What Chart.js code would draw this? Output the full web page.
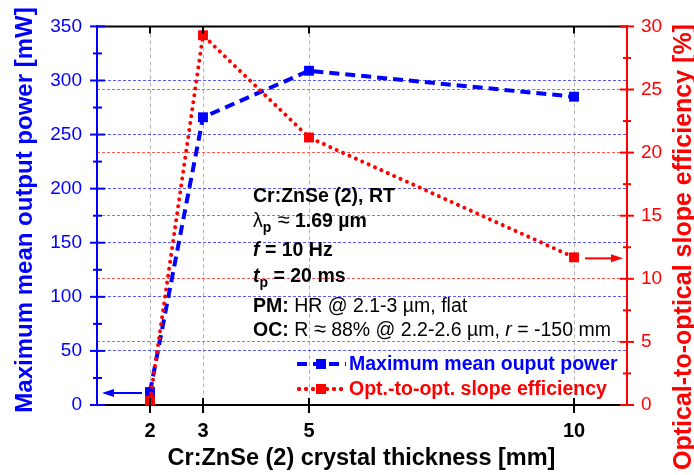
<!DOCTYPE html>
<html><head><meta charset="utf-8">
<script src="https://cdn.jsdelivr.net/npm/chart.js@4.4.0/dist/chart.umd.min.js"></script>
<style>html,body{margin:0;padding:0;background:#fff;overflow:hidden}#wrap{width:694px;height:475px}</style>
</head><body><div id="wrap"><canvas id="c" width="694" height="475"></canvas></div>
<script>
// ---- data ----
const thickness = [2, 3, 5, 10];            // mm
const powerMW   = [12, 266, 309, 285];      // mW
const slopeEff  = [0.35, 29.3, 21.2, 11.7]; // %
const xTicks    = [2, 3, 5, 10];
const powerLabel = 'Maximum mean ouput power';
const slopeLabel = 'Opt.-to-opt. slope efficiency';
const xTitle  = 'Cr:ZnSe (2) crystal thickness [mm]';
const yTitle  = 'Maximum mean output power [mW]';
const y2Title = 'Optical-to-optical slope efficiency [%]';

const FONT = '"Liberation Sans", Arial, sans-serif';
const BLUE = '#0000ff', RED = '#ff0000';

function pts(ys){ return thickness.map((x,i)=>({x:x, y:ys[i]})); }

function line(ctx,x1,y1,x2,y2,color,w,dash){
  ctx.save(); ctx.strokeStyle=color; ctx.lineWidth=w; ctx.setLineDash(dash||[]);
  ctx.beginPath(); ctx.moveTo(x1,y1); ctx.lineTo(x2,y2); ctx.stroke(); ctx.restore();
}
function arrow(ctx,x1,y,x2,color){
  const dir = Math.sign(x2-x1);
  line(ctx,x1,y,x2-dir*8,y,color,2);
  ctx.save(); ctx.fillStyle=color; ctx.beginPath();
  ctx.moveTo(x2,y); ctx.lineTo(x2-dir*12,y-4); ctx.lineTo(x2-dir*12,y+4); ctx.closePath(); ctx.fill(); ctx.restore();
}
function runs(ctx,x,y,parts,color){
  ctx.save(); ctx.fillStyle=color||'#000'; ctx.textBaseline='alphabetic'; ctx.textAlign='left';
  for(const p of parts){
    const size = p.size || 19.5;
    ctx.font = (p.s||'') + ' ' + size + 'px ' + FONT;
    ctx.fillText(p.t, x, y + (p.dy||0));
    x += ctx.measureText(p.t).width;
  }
  ctx.restore();
}

const deco = {
  id:'deco',
  afterDraw(chart){
    const ctx=chart.ctx, a=chart.chartArea, sx=chart.scales.x, sy=chart.scales.y, sy2=chart.scales.y2;
    // top axis
    line(ctx,a.left,a.top,a.right,a.top,'#000',2);
    xTicks.forEach(v=>{const p=Math.round(sx.getPixelForValue(v)); line(ctx,p,a.top,p,a.top+7,'#000',2); line(ctx,p,a.bottom-7,p,a.bottom+8,'#000',2);});
    // left ticks
    for(let v=0; v<=350; v+=25){
      const p=sy.getPixelForValue(v);
      if(v%50===0) line(ctx,a.left-7,p,a.left+8,p,BLUE,2); else line(ctx,a.left-4,p,a.left+5,p,BLUE,2);
    }
    for(let v=0; v<=30; v+=2.5){
      const p=sy2.getPixelForValue(v);
      if(v%5===0) line(ctx,a.right-7,p,a.right+7,p,RED,2); else line(ctx,a.right-4,p,a.right+4,p,RED,2);
    }
    // arrows
    const by = sy.getPixelForValue(powerMW[0]) + 1;
    arrow(ctx, sx.getPixelForValue(thickness[0]) - 8, by, a.left + 5, BLUE);
    const ry = sy2.getPixelForValue(slopeEff[slopeEff.length-1]) + 1;
    arrow(ctx, sx.getPixelForValue(thickness[thickness.length-1]) + 11, ry, a.right - 4, RED);
    // annotation
    const X = 253;
    runs(ctx,X,202,[{t:'Cr:ZnSe (2), RT',s:'bold'}]);
    runs(ctx,X,227,[{t:'λ'},{t:'p',s:'bold',size:14,dy:5},{t:' ≈',size:22},{t:' 1.69 µm',s:'bold'}]);
    runs(ctx,X,256,[{t:'f',s:'italic bold'},{t:' = 10 Hz',s:'bold'}]);
    runs(ctx,X,282,[{t:'t',s:'italic bold'},{t:'p',s:'bold',size:14,dy:5},{t:' = 20 ms',s:'bold'}]);
    runs(ctx,X,312,[{t:'PM:',s:'bold'},{t:' HR @ 2.1-3 µm, flat'}]);
    runs(ctx,X,336,[{t:'OC:',s:'bold'},{t:' R '},{t:'≈',size:22},{t:' 88% @ 2.2-2.6 µm, '},{t:'r',s:'italic'},{t:' = -150 mm'}]);
    // legend
    const lx1=297, lx2=346, mx=321;
    line(ctx,lx1,364,lx2,364,BLUE,4,[10,6]);
    ctx.fillStyle=BLUE; ctx.fillRect(mx-5,359,10,10);
    ctx.save(); ctx.lineCap='round'; line(ctx,lx1+2,389,lx2,389,RED,4,[0.01,7]); ctx.restore();
    ctx.save(); ctx.strokeStyle=RED; ctx.lineWidth=4; ctx.lineCap='round'; ctx.setLineDash([0.01,7]);
    ctx.beginPath(); ctx.moveTo(lx1+2,389); ctx.lineTo(lx2,389); ctx.stroke(); ctx.restore();
    ctx.fillStyle=RED; ctx.fillRect(mx-5,384,10,10);
    runs(ctx,349,370,[{t:powerLabel,s:'bold'}],BLUE);
    runs(ctx,349,395,[{t:slopeLabel,s:'bold'}],RED);
    // axis titles
    ctx.save(); ctx.fillStyle=BLUE; ctx.font='bold 24px '+FONT; ctx.textAlign='center'; ctx.textBaseline='alphabetic';
    ctx.translate(32,210); ctx.rotate(-Math.PI/2); ctx.fillText(yTitle,0,0); ctx.restore();
    ctx.save(); ctx.fillStyle=RED; ctx.font='bold 25px '+FONT; ctx.textAlign='center'; ctx.textBaseline='alphabetic';
    ctx.translate(691,247); ctx.rotate(-Math.PI/2); ctx.fillText(y2Title,0,0); ctx.restore();
    ctx.save(); ctx.fillStyle='#000'; ctx.font='bold 23.5px '+FONT; ctx.textAlign='center'; ctx.textBaseline='alphabetic';
    ctx.fillText(xTitle,361.5,465); ctx.restore();
  }
};

new Chart(document.getElementById('c'), {
  type:'line',
  data:{ datasets:[
    { label:powerLabel, data:pts(powerMW), yAxisID:'y', order:2, clip:false,
      borderColor:BLUE, backgroundColor:BLUE, borderWidth:4, borderDash:[10,6],
      pointStyle:'rect', pointRadius:7, pointBorderWidth:0, pointBackgroundColor:BLUE, tension:0 },
    { label:slopeLabel, data:pts(slopeEff), yAxisID:'y2', order:1, clip:false,
      borderColor:RED, backgroundColor:RED, borderWidth:4, borderDash:[0.01,7], borderCapStyle:'round',
      pointStyle:'rect', pointRadius:7, pointBorderWidth:0, pointBackgroundColor:RED, tension:0 }
  ]},
  options:{
    responsive:false, animation:false, devicePixelRatio:1,
    layout:{padding:{top:14,left:0,right:0,bottom:0}},
    plugins:{legend:{display:false}, tooltip:{enabled:false}},
    scales:{
      x:{ type:'linear', min:1, max:11,
        afterBuildTicks:s=>{ s.ticks = xTicks.map(v=>({value:v})); },
        afterFit:s=>{ s.height = 70; },
        grid:{ color:'rgba(0,0,0,0.3)', lineWidth:1, drawTicks:false },
        border:{ display:true, color:'#000', width:2, dash:[4,3] },
        ticks:{ color:'#000', font:{family:FONT,size:20,weight:'bold'}, padding:14, maxRotation:0, autoSkip:false } },
      y:{ position:'left', min:0, max:350,
        afterFit:s=>{ s.width = 97; },
        ticks:{ stepSize:50, color:BLUE, font:{family:FONT,size:19}, padding:15 },
        grid:{ color:c=> (c.tick && (c.tick.value<=0 || c.tick.value>=350)) ? 'rgba(0,0,0,0)' : 'rgba(70,70,255,0.9)', lineWidth:1, drawTicks:false },
        border:{ display:true, color:BLUE, width:2, dash:[3,2] } },
      y2:{ position:'right', min:0, max:30,
        afterFit:s=>{ s.width = 67; },
        ticks:{ stepSize:5, color:RED, font:{family:FONT,size:19}, padding:14 },
        grid:{ color:c=> (c.tick && (c.tick.value<=0 || c.tick.value>=30)) ? 'rgba(0,0,0,0)' : 'rgba(255,70,70,0.9)', lineWidth:1, drawTicks:false },
        border:{ display:true, color:RED, width:2, dash:[3,2] } }
    }
  },
  plugins:[deco]
});
</script></body></html>
